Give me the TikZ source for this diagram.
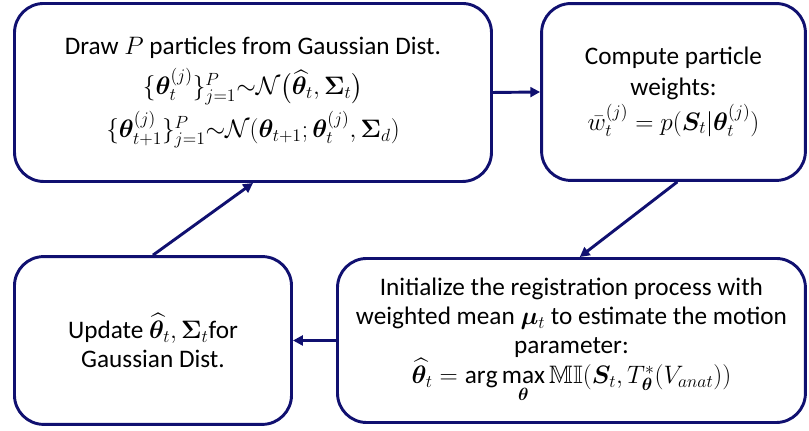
\documentclass[tikz,border=0pt]{standalone}
\usepackage{fix-cm}
\usepackage{amsmath,amssymb,bm}
\usepackage{fontspec}
\setmainfont{Carlito}
\usetikzlibrary{arrows.meta}
\definecolor{navyline}{RGB}{16,16,112}

\begin{document}
\begin{tikzpicture}[
  stage/.style={draw=navyline,line width=2.2pt,rounded corners=22pt,align=center},
  flow/.style={-{Triangle[length=2.6mm,width=2.6mm]},navyline,line width=2.2pt}
]
  \useasboundingbox (0,0) rectangle (21.405,-11.403);

  \node[stage,minimum width=12.62cm,minimum height=4.71cm,font=\fontsize{19}{24}\selectfont]
    (draw) at (6.694,-2.447)
    {Draw $P$ particles from Gaussian Dist.\\[6pt]
     $\{\bm{\theta}_t^{(j)}\}_{j=1}^{P}{\sim}\mathcal{N}\big(\widehat{\bm{\theta}}_t,\bm{\Sigma}_t\big)$\\[4pt]
     $\{\bm{\theta}_{t+1}^{(j)}\}_{j=1}^{P}{\sim}\mathcal{N}(\bm{\theta}_{t+1};\bm{\theta}_t^{(j)},\bm{\Sigma}_d)$};
  \node[stage,minimum width=6.98cm,minimum height=4.68cm,font=\fontsize{19}{23}\selectfont]
    (weights) at (17.82,-2.434)
    {Compute particle\\ weights:\\[2pt]
     $\bar{w}_t^{(j)}=p(\bm{S}_t|\bm{\theta}_t^{(j)})$};
  \node[stage,minimum width=12.38cm,minimum height=4.34cm,font=\fontsize{19}{21.5}\selectfont]
    (register) at (15.12,-9.009)
    {Initialize the registration process with\\
     weighted mean $\bm{\mu}_t$ to estimate the motion\\ parameter:\\
     $\widehat{\bm{\theta}}_t=\arg\max\limits_{\bm{\theta}}\mathbb{MI}(\bm{S}_t,T^*_{\bm{\theta}}(V_{anat}))$};
  \node[stage,minimum width=7.33cm,minimum height=4.44cm,font=\fontsize{19}{22}\selectfont]
    (update) at (4.048,-9.009)
    {Update $\widehat{\bm{\theta}}_t,\bm{\Sigma}_t$for\\ Gaussian Dist.};

  \draw[flow] (draw.east) -- (weights.west);
  \draw[flow] ([xshift=0.1cm]weights.south) -- ([xshift=0.22cm]register.north);
  \draw[flow] (register.west) -- (update.east);
  \draw[flow] (update.north) -- (draw.south);
\end{tikzpicture}
\end{document}
